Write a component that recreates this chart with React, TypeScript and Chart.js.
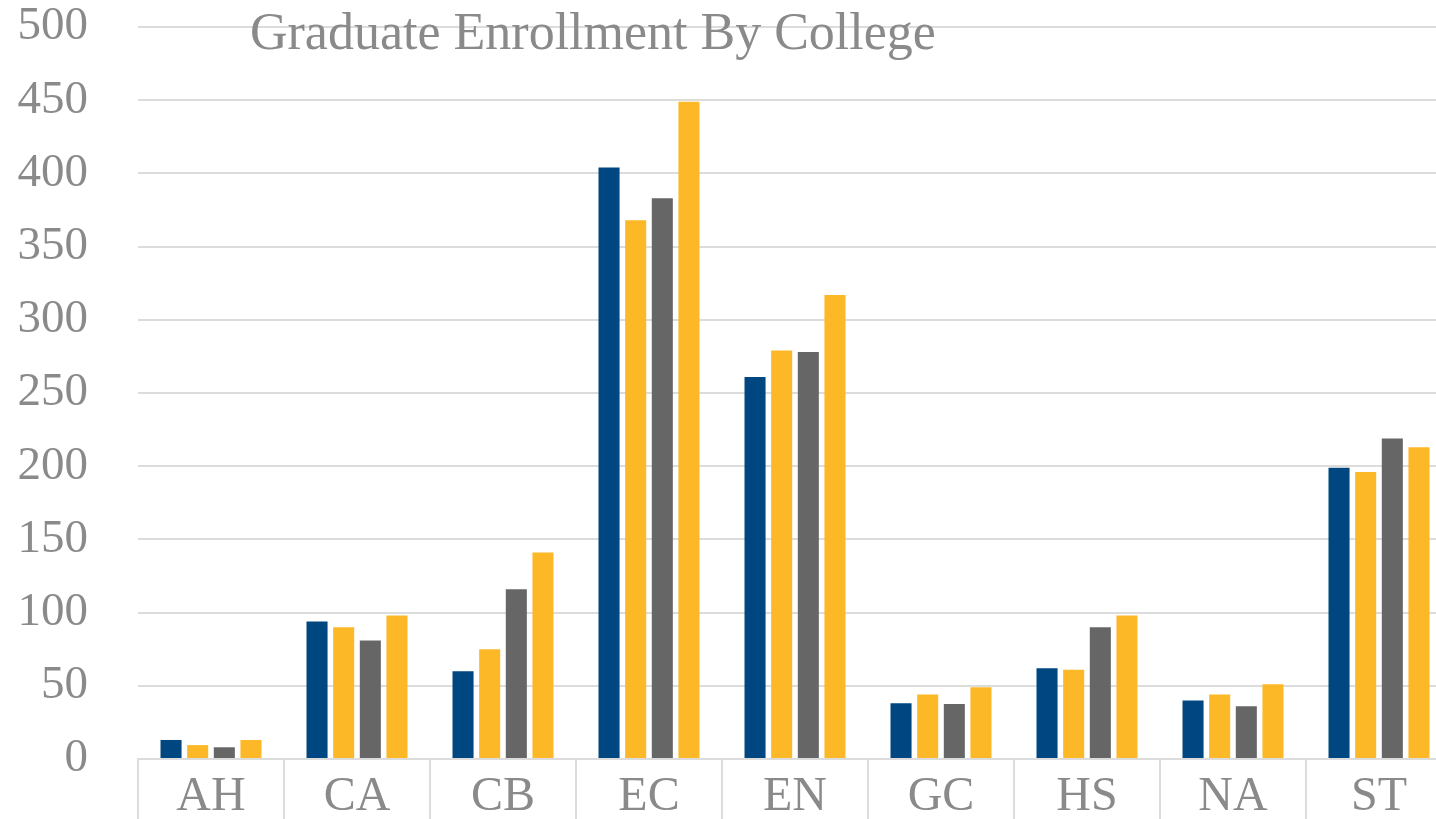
import React, { useEffect, useRef } from "react";
import { Chart, registerables } from "chart.js";

Chart.register(...registerables);

const categories = ["AH", "CA", "CB", "EC", "EN", "GC", "HS", "NA", "ST"];
const series1 = [13, 94, 60, 404, 261, 38, 62, 40, 199];
const series2 = [9.5, 90, 75, 368, 279, 44, 61, 44, 196];
const series3 = [8, 81, 116, 383, 278, 37.5, 90, 36, 219];
const series4 = [13, 98, 141, 449, 317, 49, 98, 51, 213];
const seriesNames = ["Series 1", "Series 2", "Series 3", "Series 4"];
const seriesColors = ["#004680", "#FDB827", "#666666", "#FDB827"];
const yTicks = [0, 50, 100, 150, 200, 250, 300, 350, 400, 450, 500];
const titleText = "Graduate Enrollment By College";

const FONT = "'Liberation Serif', 'Times New Roman', serif";
const TEXT = "#8a8a8a";
const GRID = "#dcdcdc";

const titlePlugin = {
  id: "overlayTitle",
  afterDraw(chart: any) {
    const ctx = chart.ctx;
    ctx.save();
    ctx.font = `52px ${FONT}`;
    ctx.fillStyle = TEXT;
    ctx.textAlign = "left";
    ctx.textBaseline = "alphabetic";
    ctx.fillText(titleText, 250, 49);
    ctx.restore();
  },
};

export default function App() {
  const ref = useRef<HTMLCanvasElement | null>(null);
  useEffect(() => {
    if (!ref.current) return;
    const data = [series1, series2, series3, series4];
    const chart = new Chart(ref.current, {
      type: "bar",
      data: {
        labels: categories,
        datasets: data.map((d, i) => ({
          label: seriesNames[i],
          data: d,
          backgroundColor: seriesColors[i],
          borderWidth: 0,
          categoryPercentage: 0.73,
          barPercentage: 0.79,
        })),
      },
      options: {
        animation: false,
        responsive: true,
        maintainAspectRatio: false,
        layout: { padding: { top: 27, right: 2, left: 0, bottom: 0 } },
        plugins: {
          legend: { display: false },
          title: { display: false },
          tooltip: { enabled: false },
        },
        scales: {
          x: {
            afterFit(scale: any) {
              scale.height = 60;
              scale.paddingLeft = 0;
              scale.paddingRight = 0;
            },
            grid: {
              offset: true,
              drawOnChartArea: false,
              drawTicks: true,
              tickLength: 60,
              color: GRID,
              lineWidth: 2,
            },
            border: { display: true, color: GRID, width: 2 },
            ticks: {
              padding: -50,
              color: TEXT,
              font: { family: FONT, size: 48 },
              maxRotation: 0,
              autoSkip: false,
            },
          },
          y: {
            min: 0,
            max: 500,
            afterFit(scale: any) {
              scale.width = 138;
              scale.paddingTop = 0;
              scale.paddingBottom = 0;
            },
            afterBuildTicks(scale: any) {
              scale.ticks = yTicks.map((v) => ({ value: v }));
            },
            grid: { drawTicks: false, color: GRID, lineWidth: 2 },
            border: { display: false },
            ticks: {
              padding: 50,
              color: TEXT,
              font: { family: FONT, size: 47 },
            },
          },
        },
      },
      plugins: [titlePlugin],
    });
    return () => chart.destroy();
  }, []);
  return (
    <div
      style={{
        position: "fixed",
        left: 0,
        top: 0,
        width: 1436,
        height: 819,
        overflow: "hidden",
        background: "#fff",
      }}
    >
      <div style={{ position: "relative", width: 1454, height: 819 }}>
        <canvas ref={ref} />
      </div>
    </div>
  );
}
